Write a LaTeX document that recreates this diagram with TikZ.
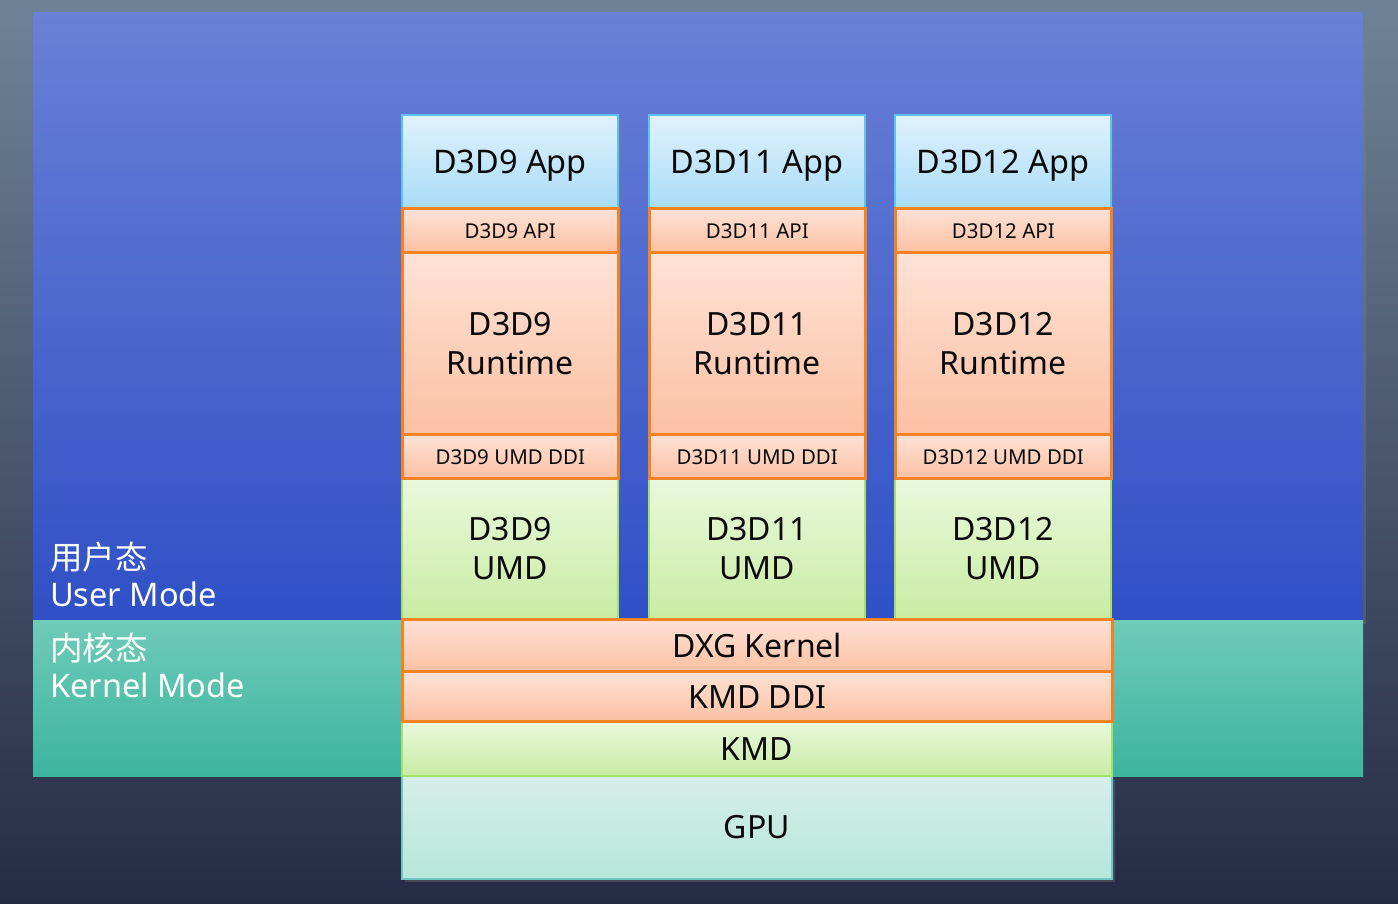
\documentclass[tikz,border=0pt]{standalone}
\usepackage{fontspec}
\setmainfont{Noto Sans}
\newfontfamily\cjk{Noto Sans CJK SC}
\usetikzlibrary{shadows}
\definecolor{bgtop}{HTML}{6E8398}
\definecolor{bgbot}{HTML}{262B45}
\definecolor{utop}{HTML}{6A80D6}
\definecolor{ubot}{HTML}{2F50C6}
\definecolor{ktop}{HTML}{6ECBB8}
\definecolor{kbot}{HTML}{3CB4A0}
\definecolor{apptop}{HTML}{E0F2FC}
\definecolor{appbot}{HTML}{A8DCF8}
\definecolor{appline}{HTML}{5CC4F2}
\definecolor{ortop}{HTML}{FDE2D6}
\definecolor{orbot}{HTML}{FCC0A2}
\definecolor{orline}{HTML}{F28222}
\definecolor{grtop}{HTML}{EAF8DC}
\definecolor{grbot}{HTML}{C8ECA2}
\definecolor{grline}{HTML}{A6E06C}
\definecolor{gputop}{HTML}{D6EEEA}
\definecolor{gpubot}{HTML}{B6E6DA}
\definecolor{gpuline}{HTML}{6CCAC0}
\definecolor{txt}{HTML}{0A0A0A}
\tikzset{
  box/.style={rectangle, inner sep=0pt, anchor=south west, text=txt, align=center},
  appbox/.style={box, top color=apptop, bottom color=appbot, draw=appline, line width=2pt, text depth=0pt, font=\fontsize{32.5}{36}\selectfont},
  apibox/.style={box, top color=ortop, bottom color=orbot, draw=orline, line width=2.6pt, font=\fontsize{20.5}{22}\selectfont},
  rtbox/.style={box, top color=ortop, bottom color=orbot, draw=orline, line width=2.6pt, font=\fontsize{32}{39}\selectfont},
  umdbox/.style={box, top color=grtop, bottom color=grbot, draw=grline, line width=2pt, font=\fontsize{32}{39}\selectfont},
  wide/.style={minimum width=710, font=\fontsize{32}{36}\selectfont},
  modelabel/.style={anchor=base west, text=white, inner sep=0pt, font=\fontsize{32.5}{36}\selectfont},
  shd/.style={drop shadow={opacity=0.35, shadow xshift=3pt, shadow yshift=-3pt}}
}
\begin{document}
\begin{tikzpicture}[x=1pt,y=1pt]
\shade[top color=bgtop, bottom color=bgbot] (0,0) rectangle (1398,904);
\useasboundingbox (0,0) rectangle (1398,904);
% user mode panel
\fill[shd, top color=utop, bottom color=ubot] (33,283) rectangle (1363,891);
\shade[top color=ktop, bottom color=kbot] (33,127) rectangle (1363,283);
\node[modelabel] (ucn) at (50,334) {\cjk 用户态};
\node[modelabel] (uen) at (50,297) {User Mode};
\node[modelabel] (kcn) at (50,243) {\cjk 内核态};
\node[modelabel] (ken) at (50,206) {Kernel Mode};
% columns
\foreach \n/\x in {9/401, 11/648, 12/894}{
  \node[appbox, shd, minimum width=216, minimum height=94] (app\n) at (\x,694) {D3D\n\ App};
  \node[umdbox, minimum width=216, minimum height=140] (umd\n) at (\x,284) {D3D\n\\UMD};
  \node[rtbox, minimum width=216, minimum height=182] (rt\n) at (\x,468) {D3D\n\\Runtime};
  \node[apibox, minimum width=216, minimum height=44] (api\n) at (\x,650) {D3D\n\ API};
  \node[apibox, minimum width=216, minimum height=44] (ddi\n) at (\x,424) {D3D\n\ UMD DDI};
}
% shared layers
\node[box, wide, shd, top color=gputop, bottom color=gpubot, draw=gpuline, line width=2pt, minimum height=103] (gpu) at (401,24) {GPU};
\node[box, wide, top color=grtop, bottom color=grbot, draw=grline, line width=2pt, minimum height=54] (kmd) at (401,127) {KMD};
\node[box, wide, top color=ortop, bottom color=orbot, draw=orline, line width=2.6pt, minimum height=50] (kmdddi) at (401,181) {KMD DDI};
\node[box, wide, top color=ortop, bottom color=orbot, draw=orline, line width=2.6pt, minimum height=52] (dxg) at (401,231) {DXG Kernel};
\end{tikzpicture}
\end{document}
